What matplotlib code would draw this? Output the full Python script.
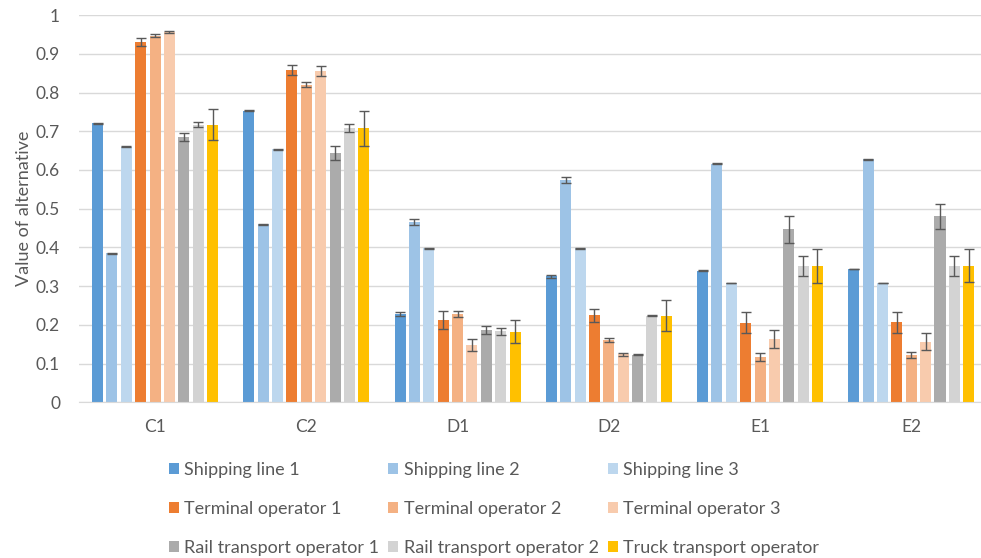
import numpy as np
import matplotlib.pyplot as plt

plt.rcParams['font.family'] = ['Lato', 'DejaVu Sans']

criteria = ["C1", "C2", "D1", "D2", "E1", "E2"]
series = ["Shipping line 1", "Shipping line 2", "Shipping line 3",
          "Terminal operator 1", "Terminal operator 2", "Terminal operator 3",
          "Rail transport operator 1", "Rail transport operator 2", "Truck transport operator"]
colors = ["#5B9BD5", "#9DC3E6", "#BDD7EE",
          "#ED7D31", "#F4B183", "#F8CBAD",
          "#ABABAB", "#D3D3D3", "#FFC000"]

# values per series, one entry per criterion
vals = [
    [0.720, 0.753, 0.228, 0.325, 0.340, 0.344],
    [0.385, 0.460, 0.465, 0.574, 0.616, 0.628],
    [0.660, 0.653, 0.398, 0.398, 0.308, 0.308],
    [0.930, 0.857, 0.213, 0.225, 0.206, 0.207],
    [0.947, 0.820, 0.228, 0.160, 0.117, 0.122],
    [0.957, 0.855, 0.148, 0.124, 0.163, 0.157],
    [0.685, 0.645, 0.186, 0.123, 0.447, 0.480],
    [0.717, 0.708, 0.183, 0.224, 0.351, 0.352],
    [0.717, 0.708, 0.182, 0.223, 0.352, 0.353],
]
errs = [
    [0.001, 0.001, 0.005, 0.004, 0.001, 0.001],
    [0.001, 0.001, 0.008, 0.008, 0.001, 0.001],
    [0.001, 0.001, 0.001, 0.001, 0.001, 0.001],
    [0.010, 0.013, 0.024, 0.017, 0.028, 0.027],
    [0.003, 0.006, 0.008, 0.005, 0.010, 0.008],
    [0.003, 0.013, 0.016, 0.004, 0.023, 0.022],
    [0.010, 0.018, 0.010, 0.002, 0.035, 0.033],
    [0.006, 0.010, 0.010, 0.001, 0.026, 0.025],
    [0.040, 0.045, 0.030, 0.040, 0.045, 0.043],
]

fig = plt.figure(figsize=(9.81, 5.58), dpi=100)
ax = fig.add_axes([0.081, 0.279, 0.925, 0.694])

x = np.arange(len(criteria))
slot = 0.095
bw = 0.073
handles = []
for i in range(len(series)):
    pos = x + (i - 4) * slot
    b = ax.bar(pos, vals[i], bw, color=colors[i], label=series[i], zorder=2)
    ax.errorbar(pos, vals[i], yerr=errs[i], fmt='none', ecolor='#595959',
                elinewidth=1, capsize=3.5, capthick=1, zorder=3)
    handles.append(b)

ax.set_xlim(-0.5, len(criteria) - 0.5)
ax.set_ylim(0, 1)
ax.set_yticks(np.arange(0, 1.01, 0.1))
ax.set_yticklabels(["0", "0.1", "0.2", "0.3", "0.4", "0.5", "0.6", "0.7", "0.8", "0.9", "1"])
ax.set_xticks(x)
ax.set_xticklabels(criteria)
ax.tick_params(axis='y', length=0, labelsize=12.5, colors='#595959', pad=14)
ax.tick_params(axis='x', length=0, labelsize=12.5, colors='#595959', pad=12)
ax.grid(axis='y', color='#D9D9D9', linewidth=1, zorder=0)
ax.set_axisbelow(True)
for s in ['top', 'right', 'left']:
    ax.spines[s].set_visible(False)
ax.spines['bottom'].set_color('#D9D9D9')
ax.set_ylabel("Value of alternative", fontsize=13, color='#595959', labelpad=3)

# reorder so legend fills row by row
order = [0, 3, 6, 1, 4, 7, 2, 5, 8]
fig.legend([handles[k] for k in order], [series[k] for k in order],
           loc='upper left', bbox_to_anchor=(0.163, 0.188), ncol=3, frameon=False,
           fontsize=13, labelcolor='#595959', handlelength=0.55, handleheight=0.55,
           handletextpad=0.3, columnspacing=0.5, labelspacing=1.27, borderpad=0)

fig.savefig("out.png", dpi=100)
